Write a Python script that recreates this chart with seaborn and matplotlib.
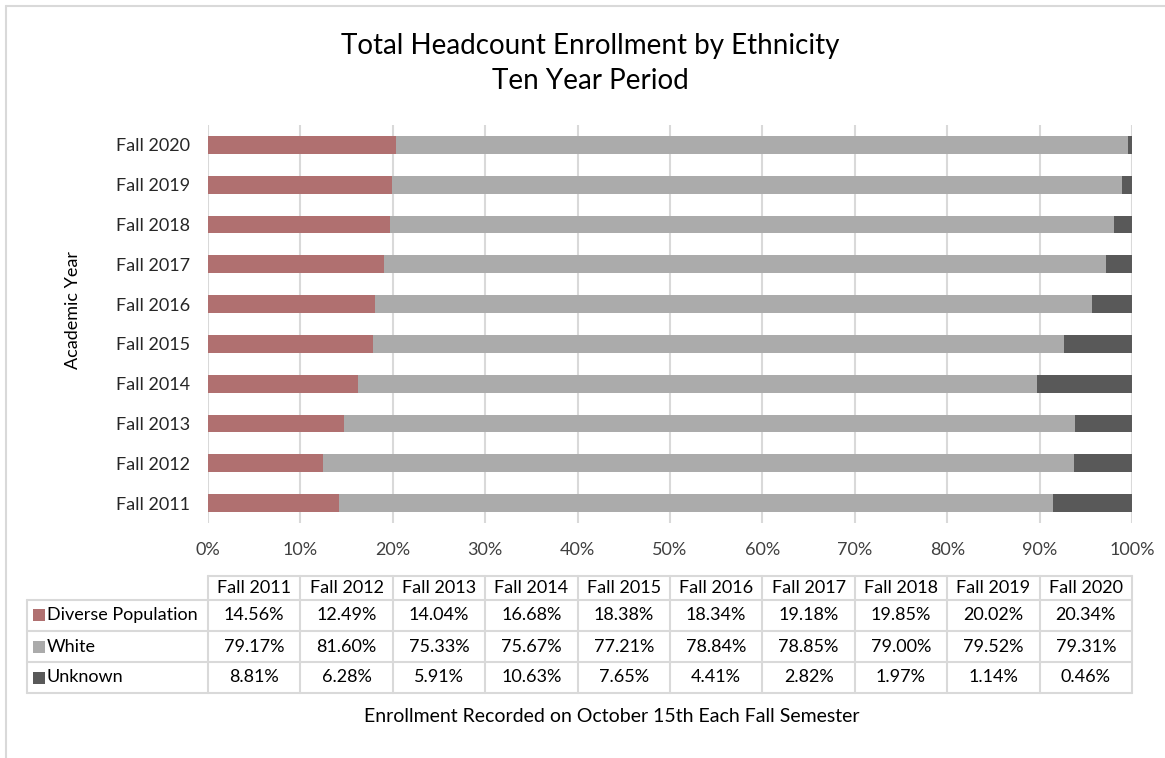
import numpy as np
import pandas as pd
import matplotlib
matplotlib.use("Agg")
import matplotlib.pyplot as plt
import seaborn as sns

years = ["Fall 2011", "Fall 2012", "Fall 2013", "Fall 2014", "Fall 2015",
         "Fall 2016", "Fall 2017", "Fall 2018", "Fall 2019", "Fall 2020"]
diverse = [14.56, 12.49, 14.04, 16.68, 18.38, 18.34, 19.18, 19.85, 20.02, 20.34]
white   = [79.17, 81.60, 75.33, 75.67, 77.21, 78.84, 78.85, 79.00, 79.52, 79.31]
unknown = [8.81, 6.28, 5.91, 10.63, 7.65, 4.41, 2.82, 1.97, 1.14, 0.46]
series_names = ["Diverse Population", "White", "Unknown"]
colors = ["#b07070", "#ababab", "#595959"]
x_ticks = [0, 10, 20, 30, 40, 50, 60, 70, 80, 90, 100]

sns.set_style("white")
plt.rcParams["font.family"] = ["Lato", "DejaVu Sans"]

W, H = 1165, 758
fig = plt.figure(figsize=(W / 100, H / 100), dpi=100)


def fx(px):
    return px / W


def fy(py):
    return 1 - py / H


# ── 100% stacked bars (Excel normalises each year to 100%) ───────────────────
df = pd.DataFrame({"year": years, "diverse": diverse, "white": white, "unknown": unknown})
total = df["diverse"] + df["white"] + df["unknown"]
df["c1"] = df["diverse"] / total * 100
df["c2"] = (df["diverse"] + df["white"]) / total * 100
df["c3"] = 100.0
order = years[::-1]

ax = fig.add_axes([fx(208), fy(523), fx(1132) - fx(208), fy(125) - fy(523)])
for col, c in zip(["c3", "c2", "c1"], colors[::-1]):
    sns.barplot(data=df, x=col, y="year", order=order, orient="h", color=c,
                width=0.45, saturation=1, linewidth=0, ax=ax, zorder=3)

ax.set_xlim(0, 100)
ax.set_xticks(x_ticks)
ax.set_xticklabels([f"{t}%" for t in x_ticks], fontsize=13, color="#404040")
ax.tick_params(axis="y", labelsize=13, colors="#262626", length=0, pad=13)
ax.tick_params(axis="x", length=0, pad=14)
ax.xaxis.grid(True, color="#d9d9d9", linewidth=1.5, zorder=0)
ax.set_axisbelow(True)
for s in ax.spines.values():
    s.set_visible(False)
ax.set_xlabel("")
ax.set_ylabel("")

# ── Titles and labels ────────────────────────────────────────────────────────
fig.text(fx(590), fy(46), "Total Headcount Enrollment by Ethnicity", ha="center",
         va="center", fontsize=20, color="#000000")
fig.text(fx(590), fy(81), "Ten Year Period", ha="center", va="center",
         fontsize=20, color="#000000")
fig.text(fx(73), fy(310), "Academic Year", rotation=90, ha="center", va="center",
         fontsize=13, color="#000000")
fig.text(fx(612), fy(717), "Enrollment Recorded on October 15th Each Fall Semester",
         ha="center", va="center", fontsize=14, color="#000000")

# ── Data table below the chart ───────────────────────────────────────────────
tab = fig.add_axes([fx(20), fy(700), fx(1140) - fx(20), fy(570) - fy(700)])
tab.set_xlim(20, 1140)
tab.set_ylim(700, 570)
tab.axis("off")

left, col0, right = 27, 208, 1132
row_edges = [576, 600, 631, 662, 693]
col_w = (right - col0) / len(years)
line_kw = dict(color="#d9d9d9", linewidth=1.5)

tab.plot([col0, right], [row_edges[0]] * 2, **line_kw)
for yv in row_edges[1:]:
    tab.plot([left, right], [yv] * 2, **line_kw)
tab.plot([left, left], [row_edges[1], row_edges[-1]], **line_kw)
for i in range(len(years) + 1):
    xv = col0 + i * col_w
    tab.plot([xv, xv], [row_edges[0], row_edges[-1]], **line_kw)

for i, yr in enumerate(years):
    tab.text(col0 + (i + 0.5) * col_w, (row_edges[0] + row_edges[1]) / 2, yr,
             ha="center", va="center", fontsize=13, color="#000000")

for r, (name, vals, c) in enumerate(zip(series_names, [diverse, white, unknown], colors)):
    yc = (row_edges[r + 1] + row_edges[r + 2]) / 2
    tab.add_patch(plt.Rectangle((33, yc - 6), 12, 12, color=c, linewidth=0))
    tab.text(47, yc, name, ha="left", va="center", fontsize=13, color="#000000")
    for i, v in enumerate(vals):
        tab.text(col0 + (i + 0.5) * col_w, yc, f"{v:.2f}%", ha="center",
                 va="center", fontsize=13, color="#000000")

# light chart border (top and left edges are visible in the reference)
border = fig.add_axes([0, 0, 1, 1], zorder=-1)
border.set_xlim(0, W)
border.set_ylim(H, 0)
border.axis("off")
border.plot([6, 6], [6, H], color="#d9d9d9", linewidth=1.5)
border.plot([6, W], [6, 6], color="#d9d9d9", linewidth=1.5)

fig.savefig("out.png", dpi=100)
